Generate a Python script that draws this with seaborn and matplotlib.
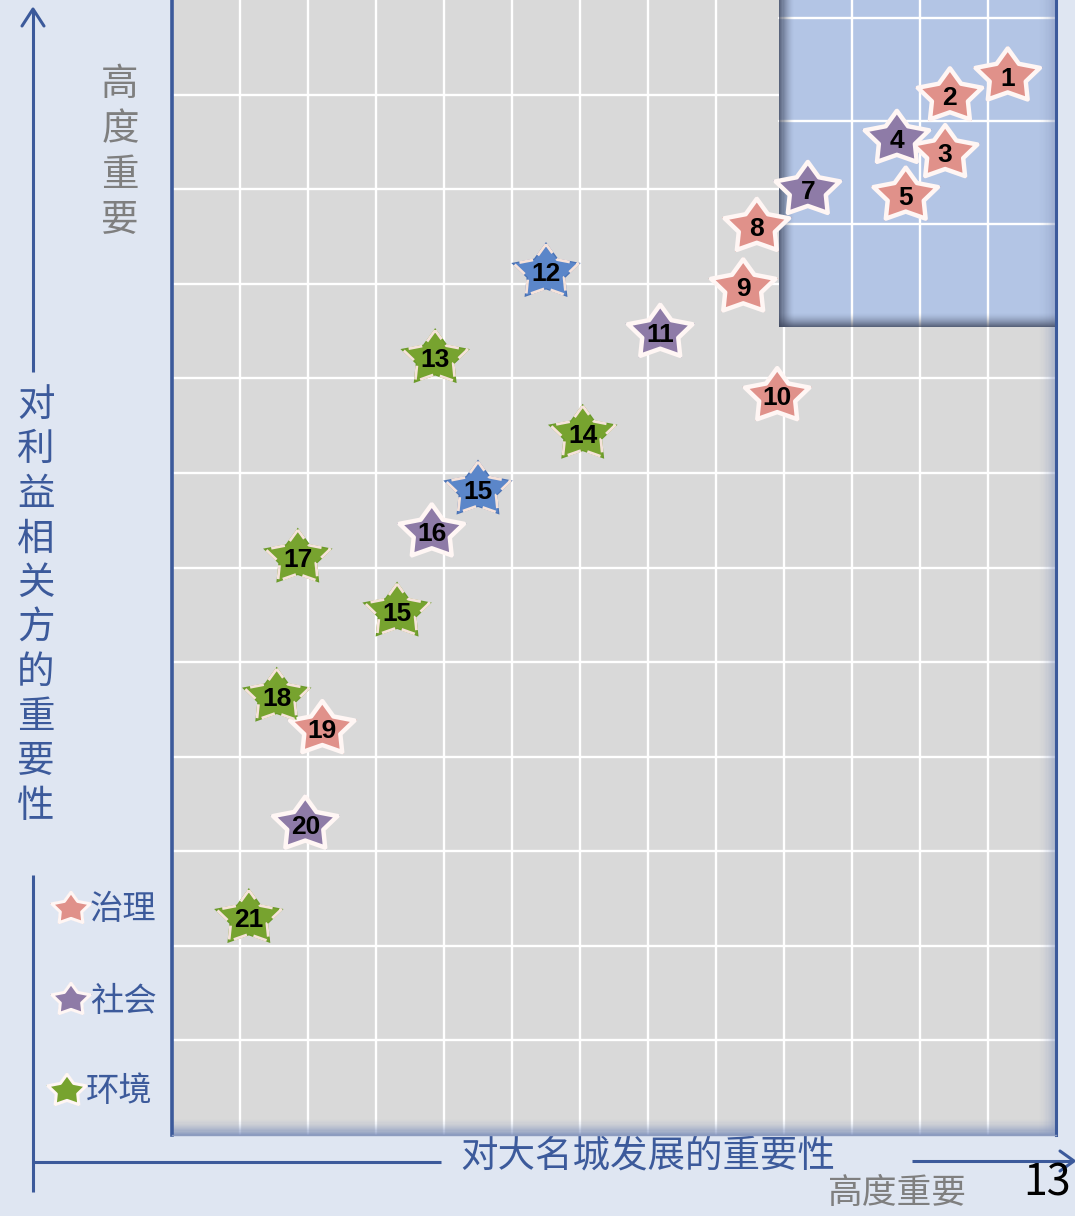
import numpy as np
import pandas as pd
import matplotlib
matplotlib.use('Agg')
import matplotlib.pyplot as plt
from matplotlib.patches import Rectangle
from matplotlib.path import Path
import seaborn as sns

issue_ids = ['1', '2', '3', '4', '5', '7', '8', '9', '10', '11', '12',
             '13', '14', '15', '16', '17', '15', '18', '19', '20', '21']
x_city = [12.29, 11.44, 11.37, 10.66, 10.79, 9.35, 8.60, 8.40, 8.90, 7.18, 5.50,
          3.87, 6.04, 4.50, 3.82, 1.85, 3.31, 1.54, 2.21, 1.96, 1.13]
y_stake = [11.19, 10.98, 10.38, 10.53, 9.93, 9.99, 9.60, 8.96, 7.81, 8.48, 9.12,
           8.21, 7.41, 6.82, 6.37, 6.10, 5.53, 4.63, 4.29, 3.28, 2.29]
category = ['治理', '治理', '治理', '社会', '治理', '社会', '治理', '治理', '治理', '社会', '其他',
            '环境', '环境', '其他', '社会', '环境', '环境', '环境', '治理', '社会', '环境']

legend_cats = ['治理', '社会', '环境']

fill_colors = {'治理': '#e0918a', '社会': '#8e7ba7', '环境': '#77a32f', '其他': '#5b86c9'}
rim_colors = {'治理': '#c65a50', '社会': '#6a5890', '环境': '#6a9a2a', '其他': '#4a72b5'}

BG = '#dfe6f2'
NAVY = '#3c5a9b'
GREY_TXT = '#7f7f7f'

# --- style ---
sns.set_theme(style='whitegrid', rc={
    'axes.facecolor': '#d9d9d9',
    'grid.color': 'white',
    'grid.linewidth': 1.7,
    'figure.facecolor': BG,
})
plt.rcParams['font.family'] = ['Noto Sans CJK SC', 'DejaVu Sans']

# slightly wide, fat five-point star like the original shapes
ang = np.pi / 2 + np.arange(10) * np.pi / 5
rad = np.where(np.arange(10) % 2 == 0, 1.0, 0.56)
star_verts = np.column_stack([1.2 * rad * np.cos(ang), rad * np.sin(ang)])
star_verts = np.vstack([star_verts, star_verts[:1]])
STAR = Path(star_verts, closed=True)

df = pd.DataFrame({'id': issue_ids, 'x': x_city, 'y': y_stake, 'cat': category})
df['dashed'] = df['cat'].isin(['环境', '其他'])

fig = plt.figure(figsize=(10.75, 12.16), dpi=100)

# full-figure layer for the outer arrows / labels, in pixel units
bg = fig.add_axes([0, 0, 1, 1], zorder=0)
bg.set_xlim(0, 1075)
bg.set_ylim(1216, 0)
bg.axis('off')

ax = fig.add_axes([172 / 1075, 1 - 1135 / 1216, 884 / 1075, 1135 / 1216], zorder=1)
ax.set_xlim(0, 13)
ax.set_ylim(0, 12)
ax.set_xticks(np.arange(1, 13))
ax.set_yticks(np.arange(1, 12))
ax.set_xticklabels([])
ax.set_yticklabels([])
ax.tick_params(length=0)
ax.set_axisbelow(True)
ax.spines['top'].set_visible(False)
ax.spines['left'].set_color(NAVY)
ax.spines['left'].set_linewidth(2.6)
ax.spines['right'].set_color(NAVY)
ax.spines['right'].set_linewidth(2.2)
ax.spines['bottom'].set_color('#8d9cbf')
ax.spines['bottom'].set_linewidth(1.0)


def edge_shade(ax, x0, y0, w, h, side, color, amax, n=14):
    # stack of thin strips fading away from one edge
    for i in range(n):
        a = amax * (1 - i / n) ** 1.6
        if side == 'left':
            r = Rectangle((x0 + i * w / n, y0), w / n, h)
        elif side == 'right':
            r = Rectangle((x0 + w - (i + 1) * w / n, y0), w / n, h)
        else:  # bottom
            r = Rectangle((x0, y0 + i * h / n), w, h / n)
        r.set_facecolor(color)
        r.set_edgecolor('none')
        r.set_alpha(a)
        r.set_zorder(1.2)
        ax.add_patch(r)


# plot area shading at the bottom and right edge
edge_shade(ax, 0, 0, 13, 0.17, 'bottom', '#7f92bd', 0.85)
edge_shade(ax, 12.75, 0, 0.25, 12, 'right', '#8a9ac0', 0.6)

# highlighted "highly important" block
bx0, by0 = 8.93, 8.54
box = Rectangle((bx0, by0), 13.1 - bx0, 12.2 - by0, facecolor='#b3c5e5',
                edgecolor='none', zorder=1.1, clip_on=True)
ax.add_patch(box)
for gx in [10, 11, 12]:
    ax.plot([gx, gx], [by0, 12], color='white', lw=1.7, zorder=1.15)
for gy in [9.63, 10.72, 11.81]:
    ax.plot([bx0, 13], [gy, gy], color='white', lw=1.7, zorder=1.15)
edge_shade(ax, bx0, by0, 0.22, 12 - by0, 'left', '#3a4258', 0.75)
edge_shade(ax, bx0, by0, 13 - bx0, 0.15, 'bottom', '#3a4258', 0.75)

# stars: dark rim underneath, fill with light border on top
sns.scatterplot(data=df, x='x', y='y', hue='cat', palette=rim_colors, marker=STAR,
                s=2500, linewidth=0, legend=False, ax=ax, zorder=3)
sns.scatterplot(data=df[~df['dashed']], x='x', y='y', hue='cat', palette=fill_colors,
                marker=STAR, s=2150, edgecolor='#fff6f4', linewidth=3.2,
                legend=False, ax=ax, zorder=4)
sns.scatterplot(data=df[df['dashed']], x='x', y='y', hue='cat', palette=fill_colors,
                marker=STAR, s=2150, edgecolor='#f5e2da', linewidth=2.0,
                linestyle=(0, (5, 2.5)), legend=False, ax=ax, zorder=4)
for _, row in df.iterrows():
    ax.text(row['x'], row['y'] - 0.02, row['id'], ha='center', va='center', fontsize=19,
            fontweight='bold', color='black', family=['Liberation Sans', 'DejaVu Sans'],
            zorder=5)
ax.set_xlabel('')
ax.set_ylabel('')

# --- outer axis arrows ---
arrow_kw = dict(color=NAVY, lw=2.2, solid_capstyle='butt')
bg.plot([33, 33], [10, 372], **arrow_kw)
bg.plot([22, 33, 44], [26, 9, 26], color=NAVY, lw=2.2)
bg.plot([33, 33], [875, 1192], **arrow_kw)
bg.plot([33, 441], [1162, 1162], **arrow_kw)
bg.plot([912, 1073], [1161, 1161], **arrow_kw)
bg.plot([1060, 1074, 1060], [1151, 1161, 1171], color=NAVY, lw=2.2)

ylab = '对利益相关方的重要性'
for i, ch in enumerate(ylab):
    bg.text(36, 405 + i * 44.6, ch, ha='center', va='center', fontsize=27, color=NAVY)
for i, ch in enumerate('高度重要'):
    bg.text(120, 84 + i * 45.5, ch, ha='center', va='center', fontsize=27, color=GREY_TXT)

bg.text(648, 1157, '对大名城发展的重要性', ha='center', va='center', fontsize=27, color=NAVY)
bg.text(897, 1194, '高度重要', ha='center', va='center', fontsize=25, color=GREY_TXT)
bg.text(1047, 1184, '13', ha='center', va='center', fontsize=31, color='black',
        fontweight='light')

# --- legend ---
leg = pd.DataFrame({'cat': legend_cats, 'px': [71, 71, 67], 'py': [909, 1000, 1091]})
sns.scatterplot(data=leg, x='px', y='py', hue='cat', palette=rim_colors, marker=STAR,
                s=900, linewidth=0, legend=False, ax=bg, zorder=3)
sns.scatterplot(data=leg, x='px', y='py', hue='cat', palette=fill_colors, marker=STAR,
                s=760, edgecolor='#fff6f4', linewidth=2.2, legend=False, ax=bg, zorder=4)
for _, row in leg.iterrows():
    bg.text(row['px'] + 19, row['py'] + 1, row['cat'], ha='left', va='center',
            fontsize=24, color=NAVY)
bg.set_xlabel('')
bg.set_ylabel('')
bg.set_xlim(0, 1075)
bg.set_ylim(1216, 0)

fig.savefig('out.png', dpi=100, facecolor=BG)
